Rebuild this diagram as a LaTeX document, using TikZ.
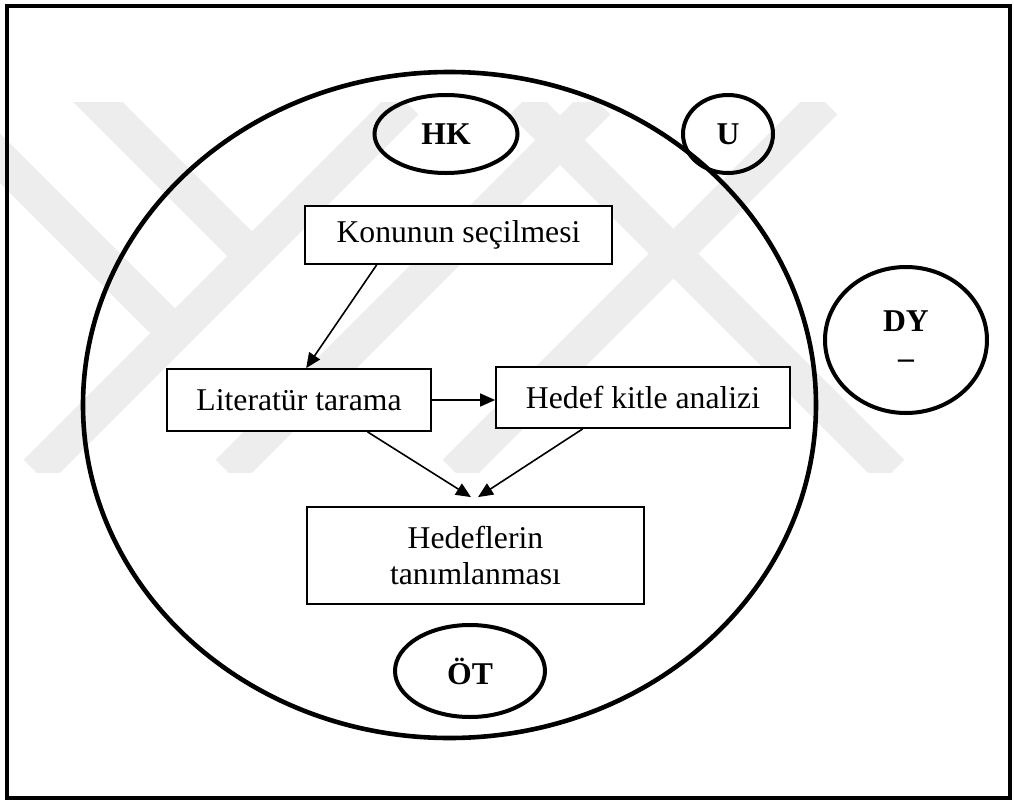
\documentclass[tikz,border=0pt]{standalone}
\usepackage{fontspec}
\setmainfont{Liberation Serif}
\usetikzlibrary{shapes.geometric,arrows.meta,calc}

\tikzset{
  wm/.style={line width=17.5pt, draw=black!7, line cap=butt},
  frame/.style={line width=1.6pt},
  bigring/.style={ellipse, draw, line width=2.3pt, inner sep=0pt},
  tag/.style={ellipse, draw, line width=2pt, inner sep=0pt,
    font=\fontsize{15.85}{18.5}\selectfont\bfseries, align=center},
  stepbox/.style={rectangle, draw, line width=0.9pt, fill=white, inner sep=0pt,
    font=\fontsize{15.85}{18}\selectfont, align=center},
  flow/.style={line width=0.8pt, -{Triangle[length=7.5pt,width=6.5pt]}}
}

\begin{document}
\begin{tikzpicture}[x=0.5pt,y=-0.5pt]
  \useasboundingbox (0,0) rectangle (1014,804);

  % faint background emblem made of diagonal bands
  \begin{scope}
    \clip (0,102) rectangle (915,472);
    \draw[wm] (36,472) -- (406,102);
    \draw[wm] (-60,98) -- (175,333);
    \draw[wm] (80,84) -- (252,256);
    \draw[wm] (228,472) -- (598,102);
    \draw[wm] (455,472) -- (825,102);
    \draw[wm] (522,102) -- (892,472);
  \end{scope}

  % outer frame
  \draw[frame] (7,6) rectangle (1010,798);

  % main ring and the satellite ellipses
  \node[bigring, minimum width=366.5pt, minimum height=333pt] (ring) at (449.5,405) {};
  \node[tag, minimum width=71.5pt, minimum height=39pt] (hk) at (446,134) {HK};
  \node[tag, minimum width=45pt, minimum height=39pt] (u) at (728,134) {\raisebox{-2pt}{U}};
  \node[tag, minimum width=81pt, minimum height=73pt] (dy) at (906,340) {DY\\–};
  \node[tag, minimum width=75pt, minimum height=46pt] (ot) at (470,671) {ÖT};

  % process steps
  \node[stepbox, minimum width=153.5pt, minimum height=29pt] (konu) at (458.5,235) {Konunun seçilmesi};
  \node[stepbox, minimum width=132pt, minimum height=31pt] (lit) at (299,400) {Literatür tarama};
  \node[stepbox, minimum width=147pt, minimum height=30.5pt] (hedef) at (643,397.5) {Hedef kitle analizi};
  \node[stepbox, minimum width=168.5pt, minimum height=48.5pt] (tanim) at (475.5,555.5) {Hedeflerin\\tanımlanması};

  % arrow end points just above the last step
  \coordinate (inL) at ($(tanim.north)+(-4.5,-9)$);
  \coordinate (inR) at ($(tanim.north)+(2.5,-9)$);

  % connectors
  \draw[flow] ($(konu.south west)!0.235!(konu.south east)$) -- ($(lit.north west)!0.527!(lit.north east)$);
  \draw[flow] (lit.east) -- (lit.east -| hedef.west);
  \draw[flow] ($(lit.south west)!0.758!(lit.south east)$) -- (inL);
  \draw[flow] ($(hedef.south west)!0.296!(hedef.south east)$) -- (inR);
\end{tikzpicture}
\end{document}
